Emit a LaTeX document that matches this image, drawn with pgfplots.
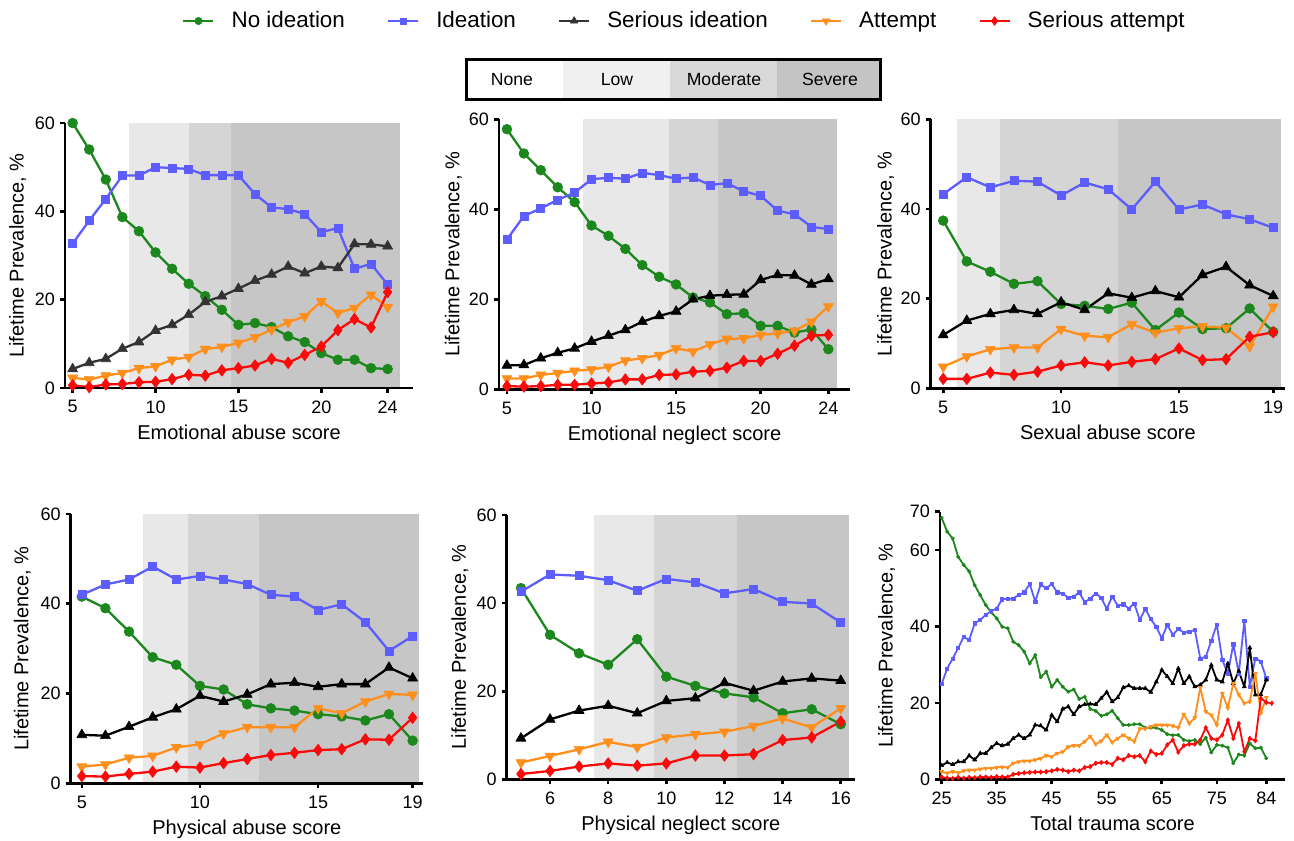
\documentclass[border=0pt]{standalone}
\usepackage{fontspec}
\setmainfont{Liberation Sans}
\usepackage{pgfplots}
\usepackage{pgfplotstable}
\pgfplotsset{compat=1.18}

\definecolor{cgreen}{RGB}{28,135,28}
\definecolor{cblue}{RGB}{92,92,255}
\definecolor{corange}{RGB}{255,143,28}
\definecolor{cred}{RGB}{250,10,10}
\definecolor{lowc}{RGB}{232,232,232}
\definecolor{modc}{RGB}{213,213,213}
\definecolor{sevc}{RGB}{198,198,198}
\definecolor{blow}{RGB}{240,240,240}
\definecolor{bmod}{RGB}{217,217,217}
\definecolor{bsev}{RGB}{196,196,196}

% x  no ideation, ideation, serious ideation, attempt, serious attempt
\pgfplotstableread{
x  no   id   ser  att  sa
5  60.0 32.7 4.3  2.3  0.6
6  54.0 37.9 5.7  1.9  0.2
7  47.2 42.8 6.6  2.8  0.8
8  38.7 48.1 8.9  3.4  0.9
9  35.5 48.1 10.4 4.5  1.3
10 30.7 50.0 13.0 4.9  1.4
11 27.0 49.8 14.3 6.4  2.0
12 23.6 49.6 16.6 7.0  3.0
13 20.8 48.2 19.5 8.8  2.8
14 17.7 48.2 20.8 9.3  4.0
15 14.3 48.2 22.5 10.2 4.5
16 14.7 43.9 24.3 11.5 5.1
17 13.8 40.9 25.7 13.2 6.6
18 11.7 40.5 27.5 14.9 5.7
19 10.4 39.4 26.0 16.2 7.5
20 7.9  35.3 27.5 19.6 9.4
21 6.4  36.2 27.2 17.0 13.1
22 6.4  27.0 32.6 18.1 15.6
23 4.5  28.1 32.5 21.1 13.7
24 4.3  23.4 32.1 18.3 21.7
}\tEA

\pgfplotstableread{
x  no   id   ser  att  sa
5  57.8 33.3 5.3  2.4  0.7
6  52.4 38.5 5.4  2.4  0.6
7  48.7 40.2 6.9  3.2  0.7
8  44.9 42.1 8.1  3.6  1.0
9  41.6 43.7 9.1  4.1  1.0
10 36.4 46.7 10.6 4.4  1.3
11 34.1 47.0 11.9 5.0  1.5
12 31.2 46.8 13.2 6.4  2.2
13 27.6 48.1 15.0 6.9  2.2
14 25.0 47.6 16.3 7.6  3.2
15 23.3 46.8 17.3 9.1  3.3
16 20.4 47.1 20.0 8.4  3.9
17 19.3 45.4 20.8 10.0 4.1
18 16.7 45.8 21.0 11.2 4.8
19 16.9 44.0 21.1 11.3 6.3
20 14.1 43.0 24.3 12.1 6.3
21 14.1 39.7 25.4 12.4 7.9
22 12.6 38.9 25.3 13.0 9.7
23 13.3 36.1 23.3 15.0 11.9
24 8.9  35.6 24.5 18.4 12.1
}\tEN

\pgfplotstableread{
x  no   id   ser  att  sa
5  37.4 43.3 11.9 4.8  2.1
6  28.3 47.1 15.1 7.1  2.1
7  26.0 44.8 16.6 8.7  3.5
8  23.3 46.3 17.5 9.1  3.0
9  23.9 46.1 16.6 9.1  3.7
10 18.8 43.0 19.2 13.2 5.1
11 18.4 45.9 17.5 11.7 5.8
12 17.7 44.4 21.2 11.4 5.1
13 19.1 39.9 20.2 14.3 5.9
14 13.0 46.1 21.7 12.4 6.5
15 16.9 39.9 20.3 13.4 8.9
16 13.2 41.0 25.3 13.8 6.3
17 13.4 38.8 27.1 13.5 6.5
18 17.8 37.7 23.0 9.3  11.5
19 12.6 35.8 20.6 18.2 12.5
}\tSA

\pgfplotstableread{
x  no   id   ser  att  sa
5  41.6 42.0 10.8 3.7  1.6
6  39.0 44.3 10.6 4.2  1.5
7  33.8 45.4 12.6 5.7  2.1
8  28.1 48.3 14.7 6.1  2.6
9  26.4 45.4 16.5 8.0  3.7
10 21.7 46.2 19.5 8.7  3.5
11 20.9 45.4 18.2 11.1 4.5
12 17.6 44.4 19.8 12.5 5.4
13 16.7 42.0 22.1 12.5 6.3
14 16.2 41.6 22.4 12.5 6.8
15 15.4 38.6 21.5 16.7 7.4
16 14.9 39.9 22.1 15.6 7.6
17 14.0 35.9 22.1 18.2 9.8
18 15.4 29.5 25.8 19.9 9.7
19 9.5  32.8 23.4 19.7 14.6
}\tPA

\pgfplotstableread{
x  no   id   ser  att  sa
5  43.4 42.6 9.3  3.8  1.2
6  32.8 46.5 13.6 5.3  1.9
7  28.6 46.2 15.6 6.8  2.9
8  26.0 45.2 16.7 8.5  3.6
9  31.8 42.8 15.0 7.3  3.1
10 23.3 45.5 17.8 9.5  3.6
11 21.2 44.7 18.4 10.2 5.4
12 19.5 42.2 21.9 10.8 5.4
13 18.6 43.2 20.1 12.1 5.7
14 15.0 40.3 22.2 13.8 8.9
15 15.9 39.9 22.9 11.8 9.5
16 12.5 35.6 22.4 16.1 13.1
}\tPN

\pgfplotstableread{
x  no   id   ser  att  sa
25 68.4 24.9 3.6  2.0  0.6
26 64.8 29.0 4.4  1.6  0.3
27 63.0 31.6 3.9  2.0  0.2
28 58.2 34.3 4.6  1.7  0.5
29 56.1 37.3 4.6  2.2  0.3
30 54.4 36.4 6.2  2.4  0.5
31 50.8 40.8 5.1  2.4  0.4
32 48.2 41.7 6.8  2.7  0.6
33 45.6 43.0 6.8  2.9  0.6
34 43.7 44.0 8.3  2.9  0.5
35 42.1 44.7 9.4  3.1  0.7
36 39.9 47.1 8.8  3.2  0.6
37 39.5 47.2 9.2  3.1  0.6
38 36.0 47.3 10.7 4.2  1.3
39 35.1 48.2 11.6 4.6  1.5
40 33.4 48.9 10.7 4.8  1.7
41 30.3 51.1 11.6 4.8  1.8
42 32.5 46.5 14.2 5.1  1.9
43 26.7 51.0 14.0 5.5  1.9
44 28.2 50.0 12.9 6.2  2.0
45 24.2 51.1 16.8 5.9  2.2
46 26.0 48.9 15.1 6.8  2.6
47 24.2 48.6 18.4 7.2  2.4
48 22.9 47.5 19.0 8.5  2.0
49 23.5 47.8 17.0 8.8  2.4
50 21.0 48.9 19.0 8.8  2.2
51 21.6 46.3 19.6 9.9  3.1
52 18.4 47.3 19.7 11.2 3.3
53 17.9 48.6 19.6 9.2  4.2
54 16.6 47.5 21.2 10.0 4.4
55 17.0 44.6 22.8 11.6 4.4
56 17.9 47.8 20.3 9.7  3.9
57 16.0 45.4 21.4 10.7 5.5
58 14.2 45.8 24.0 11.6 5.1
59 14.2 44.7 24.5 10.7 6.2
60 14.4 46.0 23.8 9.9  5.9
61 14.4 41.7 23.8 13.2 6.2
62 13.5 44.6 23.8 13.2 4.6
63 13.5 41.9 22.8 13.8 7.4
64 13.5 39.9 25.5 14.2 6.5
65 12.9 36.9 28.6 14.2 6.8
66 11.8 40.4 26.9 14.2 9.0
67 11.5 37.8 25.1 14.0 10.3
68 11.6 39.3 29.0 13.5 7.1
69 10.3 38.4 25.1 17.0 8.8
70 10.0 38.6 26.9 14.6 9.2
71 10.3 39.1 24.2 16.1 9.2
72 9.2  31.6 24.7 24.0 10.3
73 10.9 32.1 26.0 17.7 13.5
74 7.0  36.2 29.9 16.8 10.7
75 9.0  40.5 26.0 14.2 10.3
76 8.8  31.2 25.5 22.5 11.6
77 8.3  27.7 30.3 18.6 15.5
78 4.2  35.3 25.1 25.1 10.7
79 6.5  27.7 28.3 22.1 14.6
80 6.2  41.4 24.2 19.9 7.2
81 9.4  24.2 34.4 20.3 10.7
82 8.1  31.6 22.1 27.7 10.1
83 8.3  30.8 22.2 17.3 21.2
84 5.5  26.4 26.0 21.4 20.1
85 nan  nan  nan  nan  19.9
}\tTT

\pgfplotsset{
  panel/.style={
    scale only axis, axis on top, clip=false,
    axis x line*=bottom, axis y line*=left,
    ymin=0, ymax=60, ytick={0,20,40,60},
    tick align=outside, major tick length=2.5pt,
    tick style={black, line width=1.3pt},
    axis line style={black, line width=1.3pt},
    /pgf/number format/assume math mode=true,
    tick label style={font=\fontsize{9}{10}\selectfont},
    xticklabel style={anchor=north, inner sep=0pt, yshift=-3.6pt},
    yticklabel style={anchor=east, inner sep=0pt, xshift=-2.3pt},
    label style={font=\fontsize{9.4}{11}\selectfont},
    every axis x label/.style={at={(axis description cs:0.5,0)}, anchor=base, yshift=-25.8pt, inner sep=0pt},
    ylabel={Lifetime Prevalence, \%},
  },
  ylab/.style={every axis y label/.style={at={(axis description cs:-#1,0.5)}, rotate=90, anchor=base, inner sep=0pt}},
  sNo/.style={color=cgreen, line width=1.15pt, line join=round, mark=*, mark options={solid, line width=0.3pt}, mark size=2.45pt},
  sId/.style={color=cblue, line width=1.15pt, line join=round, mark=square*, mark options={solid, line width=0.3pt}, mark size=2pt},
  sSer/.style={color=black, line width=1.15pt, line join=round, mark=triangle*, mark options={solid, line width=0.3pt}, mark size=2.9pt},
  sAtt/.style={color=corange, line width=1.15pt, line join=round, mark=triangle*, mark options={solid, line width=0.3pt, rotate=180}, mark size=2.9pt},
  sSa/.style={color=cred, line width=1.15pt, line join=round, mark=diamond*, mark options={solid, line width=0.3pt}, mark size=2.9pt},
  small/.style={line width=0.9pt, mark size=0.85pt},
}

\begin{document}
\begin{tikzpicture}
\useasboundingbox (0,0) rectangle (647pt,420pt);

% Emotional abuse
\begin{axis}[panel, ylab=0.1187, at={(32.5pt,226pt)}, anchor=south west,
  width=174pt, height=132.5pt, xmin=4.54, xmax=25.53, xtick={5,10,15,20,24},
  xlabel={Emotional abuse score},
  legend columns=5,
  legend image code/.code={\draw[mark repeat=2, mark phase=2, #1, every mark/.append style={scale=0.75}] plot coordinates {(0pt,0pt) (7.5pt,0pt) (15pt,0pt)};},
  legend style={at={(axis description cs:0.336,1.385)}, anchor=west, draw=none, fill=none,
    inner sep=0pt, font=\fontsize{11.2}{13}\selectfont, nodes={inner sep=0pt},
    /tikz/every odd column/.append style={column sep=8.5pt},
    /tikz/every even column/.append style={column sep=21pt}},
]
\fill[lowc] (axis cs:8.4,0) rectangle (axis cs:12,60);
\fill[modc] (axis cs:12,0) rectangle (axis cs:14.55,60);
\fill[sevc] (axis cs:14.55,0) rectangle (axis cs:24.74,60);
\addplot[sNo] table[x=x, y=no] {\tEA}; \addlegendentry{No ideation}
\addplot[sId] table[x=x, y=id] {\tEA}; \addlegendentry{Ideation}
\addplot[sSer, color=black!80] table[x=x, y=ser] {\tEA}; \addlegendentry{Serious ideation}
\addplot[sAtt] table[x=x, y=att] {\tEA}; \addlegendentry{Attempt}
\addplot[sSa] table[x=x, y=sa] {\tEA}; \addlegendentry{Serious attempt}
\end{axis}

% Emotional neglect
\begin{axis}[panel, ylab=0.1128, at={(249.5pt,225.35pt)}, anchor=south west,
  width=175.5pt, height=135pt, xmin=4.53, xmax=25.28, xtick={5,10,15,20,24},
  xlabel={Emotional neglect score}]
\fill[lowc] (axis cs:9.5,0) rectangle (axis cs:14.6,60);
\fill[modc] (axis cs:14.6,0) rectangle (axis cs:17.5,60);
\fill[sevc] (axis cs:17.5,0) rectangle (axis cs:24.5,60);
\addplot[sNo] table[x=x, y=no] {\tEN};
\addplot[sId] table[x=x, y=id] {\tEN};
\addplot[sSer] table[x=x, y=ser] {\tEN};
\addplot[sAtt] table[x=x, y=att] {\tEN};
\addplot[sSa] table[x=x, y=sa] {\tEN};
\end{axis}

% Sexual abuse
\begin{axis}[panel, ylab=0.1101, at={(465.35pt,225.85pt)}, anchor=south west,
  width=177.15pt, height=134.5pt, xmin=4.47, xmax=19.5, xtick={5,10,15,19},
  xlabel={Sexual abuse score}]
\fill[lowc] (axis cs:5.6,0) rectangle (axis cs:7.4,60);
\fill[modc] (axis cs:7.4,0) rectangle (axis cs:12.4,60);
\fill[sevc] (axis cs:12.4,0) rectangle (axis cs:19.31,60);
\addplot[sNo] table[x=x, y=no] {\tSA};
\addplot[sId] table[x=x, y=id] {\tSA};
\addplot[sSer] table[x=x, y=ser] {\tSA};
\addplot[sAtt] table[x=x, y=att] {\tSA};
\addplot[sSa] table[x=x, y=sa] {\tSA};
\end{axis}

% Physical abuse
\begin{axis}[panel, ylab=0.1201, at={(35.35pt,28.35pt)}, anchor=south west,
  width=176.15pt, height=134.65pt, xmin=4.53, xmax=19.44, xtick={5,10,15,19},
  xlabel={Physical abuse score}]
\fill[lowc] (axis cs:7.6,0) rectangle (axis cs:9.5,60);
\fill[modc] (axis cs:9.5,0) rectangle (axis cs:12.5,60);
\fill[sevc] (axis cs:12.5,0) rectangle (axis cs:19.28,60);
\addplot[sNo] table[x=x, y=no] {\tPA};
\addplot[sId] table[x=x, y=id] {\tPA};
\addplot[sSer] table[x=x, y=ser] {\tPA};
\addplot[sAtt] table[x=x, y=att] {\tPA};
\addplot[sSa] table[x=x, y=sa] {\tPA};
\end{axis}

% Physical neglect
\begin{axis}[panel, ylab=0.1169, at={(253.35pt,30.35pt)}, anchor=south west,
  width=174.15pt, height=132.15pt, xmin=4.51, xmax=16.49, xtick={6,8,10,12,14,16},
  xlabel={Physical neglect score}]
\fill[lowc] (axis cs:7.52,0) rectangle (axis cs:9.58,60);
\fill[modc] (axis cs:9.58,0) rectangle (axis cs:12.44,60);
\fill[sevc] (axis cs:12.44,0) rectangle (axis cs:16.27,60);
\addplot[sNo] table[x=x, y=no] {\tPN};
\addplot[sId] table[x=x, y=id] {\tPN};
\addplot[sSer] table[x=x, y=ser] {\tPN};
\addplot[sAtt] table[x=x, y=att] {\tPN};
\addplot[sSa] table[x=x, y=sa] {\tPN};
\end{axis}

% Total trauma
\begin{axis}[panel, ylab=0.1371, at={(470pt,30.35pt)}, anchor=south west,
  width=172.5pt, height=133.8pt, xmin=24.7, xmax=87.4, ymax=70,
  ytick={0,20,40,60,70}, xtick={25,35,45,55,65,75,84},
  xlabel={Total trauma score}]
\addplot[sNo, small] table[x=x, y=no] {\tTT};
\addplot[sId, small, mark size=0.8pt] table[x=x, y=id] {\tTT};
\addplot[sSer, small, mark size=1.15pt] table[x=x, y=ser] {\tTT};
\addplot[sAtt, small, mark size=1.15pt] table[x=x, y=att] {\tTT};
\addplot[sSa, small, mark size=1.15pt] table[x=x, y=sa] {\tTT};
\end{axis}

% severity key
\fill[white] (232.5pt,369.5pt) rectangle (281.5pt,391pt);
\fill[blow] (281.5pt,369.5pt) rectangle (335pt,391pt);
\fill[bmod] (335pt,369.5pt) rectangle (388.5pt,391pt);
\fill[bsev] (388.5pt,369.5pt) rectangle (441pt,391pt);
\draw[line width=1.5pt] (233.25pt,370.25pt) rectangle (440.25pt,390.25pt);
\begin{scope}[every node/.style={font=\fontsize{8.8}{10}\selectfont, inner sep=0pt}]
\node at (256pt,380.25pt) {None};
\node at (308.5pt,380.25pt) {Low};
\node at (362pt,380.25pt) {Moderate};
\node at (415pt,380.25pt) {Severe};
\end{scope}
\end{tikzpicture}
\end{document}
